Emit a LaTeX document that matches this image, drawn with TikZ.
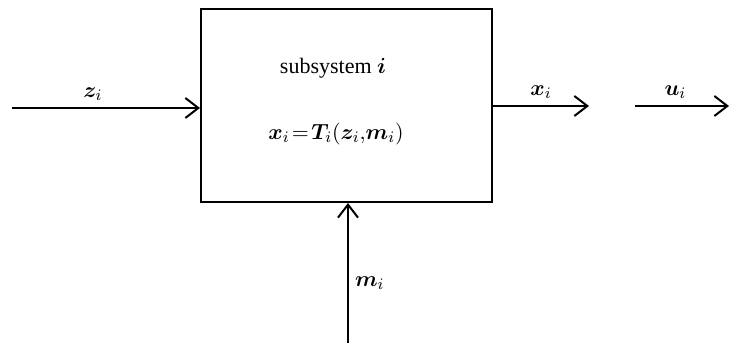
\documentclass[tikz,border=0pt]{standalone}
\usepackage{fontspec}
\setmainfont{Liberation Serif}
\usepackage{amsmath}
\usepackage{bm}
\usetikzlibrary{arrows.meta}

\begin{document}
\begin{tikzpicture}[x=0.5pt,y=0.5pt,font=\fontsize{11}{13}\selectfont,
  sig/.style={line width=1pt,-{Straight Barb[length=6.5pt,width=10pt,line width=1pt]}},
  lbl/.style={inner sep=3pt}]
\useasboundingbox (0,0) rectangle (730,-346);
% the block
\node[draw,line width=1pt,minimum width=145.5pt,minimum height=96.5pt] (sub) at (346.5,-105.5) {};
\node (name) at (333,-68) {subsystem $\bm{i}$};
\node (law) at (336,-134) {$\bm{x}_i\!=\!\bm{T}_i(\bm{z}_i{,}\bm{m}_i)$};
% free ends of the signals
\coordinate (zin) at (12,-108);
\coordinate (xout) at (589,-106);
\coordinate (ustart) at (635,-106);
\coordinate (uend) at (729,-106);
\coordinate (min) at (348,-343);
\draw[sig] (zin) -- (zin -| sub.west) node[lbl,above,pos=0.43] {$\bm{z}_i$};
\draw[sig] (sub.east |- xout) -- (xout) node[lbl,above,midway] {$\bm{x}_i$};
\draw[sig] (ustart) -- (uend) node[lbl,above,pos=0.43] {$\bm{u}_i$};
\draw[sig] (min) -- (min |- sub.south) node[lbl,right,pos=0.43] {$\bm{m}_i$};
\end{tikzpicture}
\end{document}
